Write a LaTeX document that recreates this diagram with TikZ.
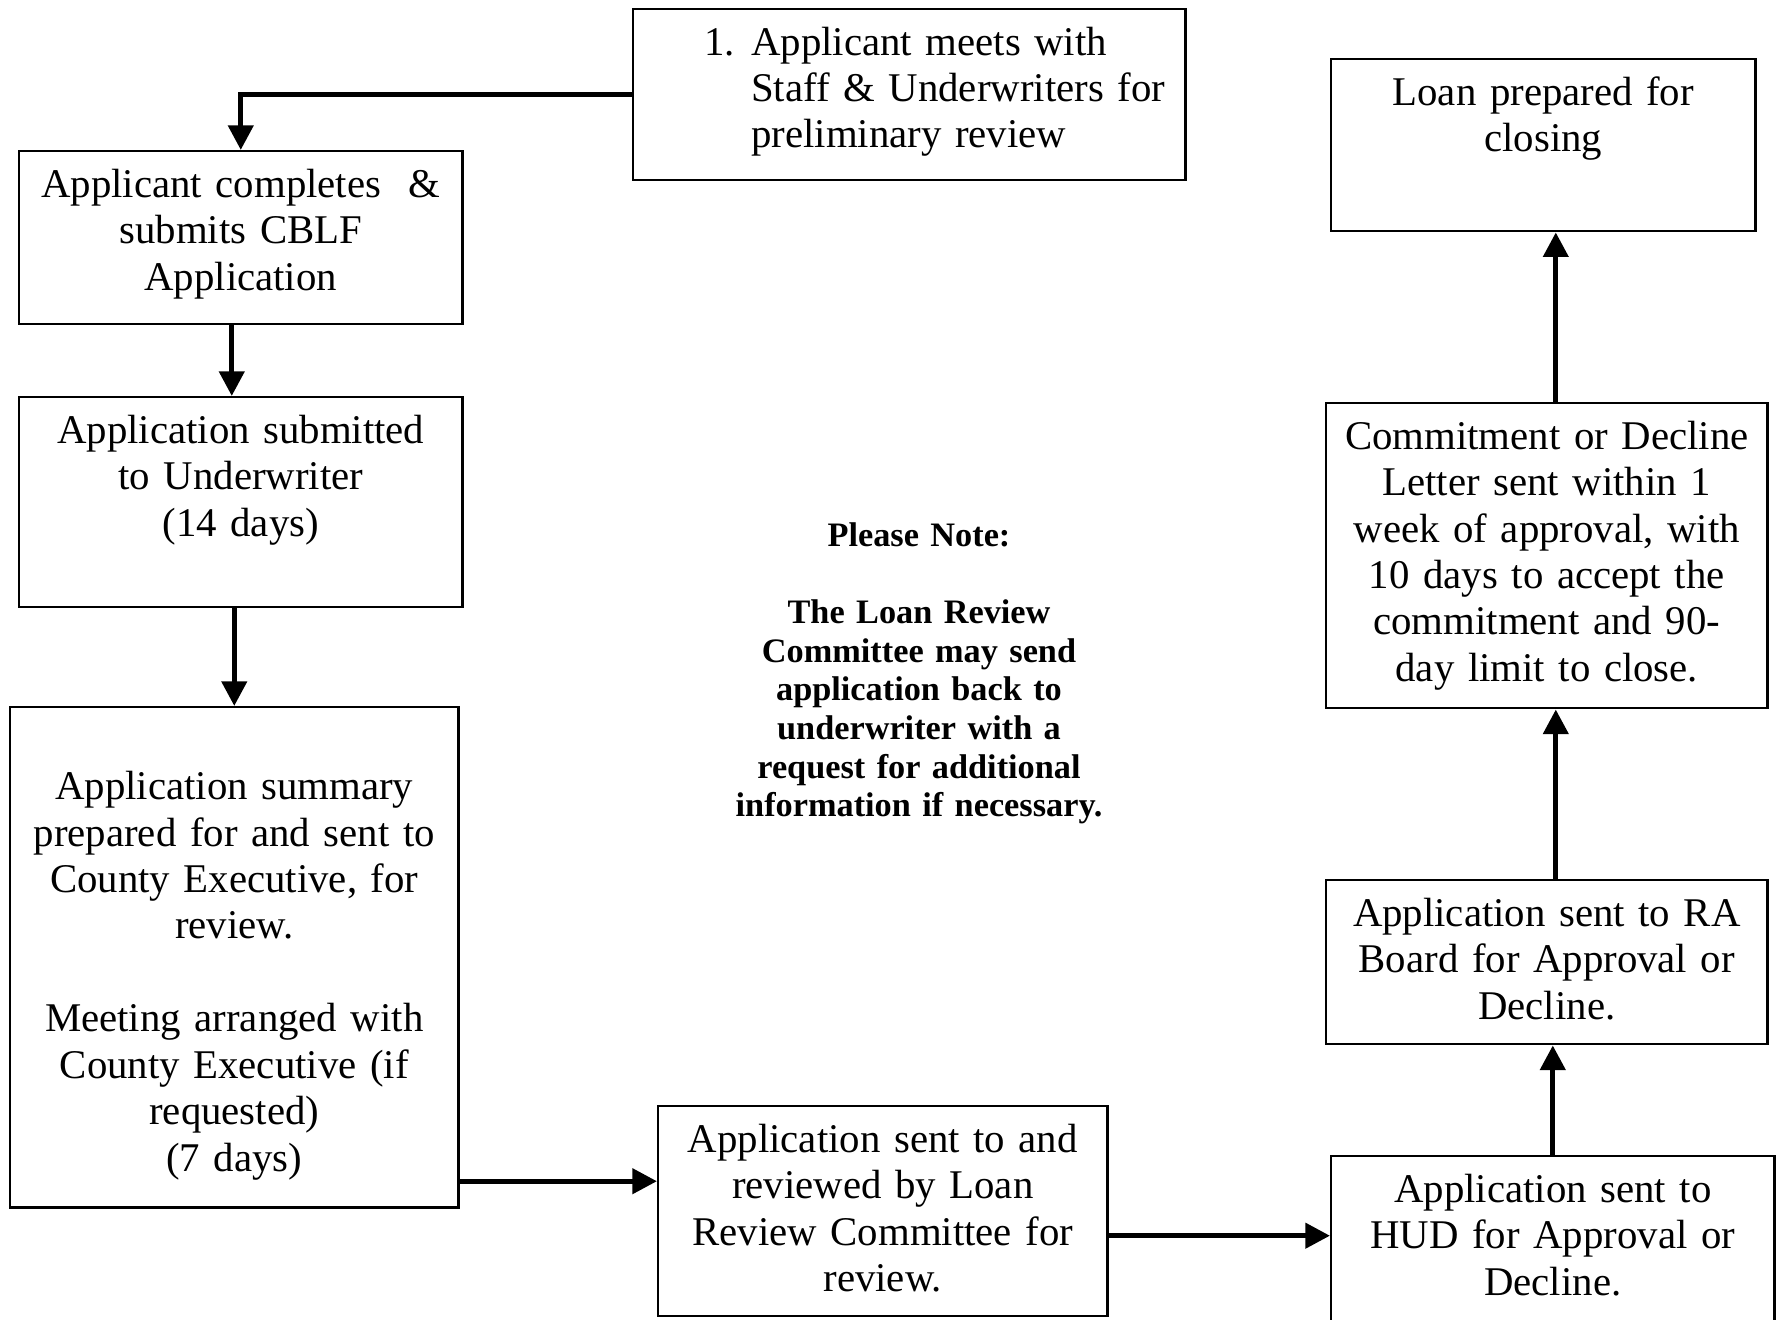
\documentclass[tikz,border=0pt]{standalone}
\usepackage{fontspec}
\setmainfont{Liberation Serif}
\usetikzlibrary{arrows.meta,calc}
\newcommand{\boxfont}{\fontsize{11.6pt}{13.2pt}\selectfont}
\newcommand{\notefont}{\bfseries\fontsize{9.75pt}{11pt}\selectfont}

\begin{document}
\begin{tikzpicture}[x=0.01cm,y=-0.01cm,
  box/.style={draw, line width=0.65pt, anchor=north west, inner xsep=0.05cm, inner ysep=0pt,
    align=center, font=\boxfont, text height=0.46cm},
  flow/.style={line width=1.5pt, -{Triangle[length=7pt,width=7pt]}}]
\useasboundingbox (0,0) rectangle (1777,1319);

\node[box, align=left, text width=5.42cm, text depth=1.25cm] (meet) at (632,8)
  {\hspace*{0.66cm}\makebox[0.47cm][l]{1.}Applicant meets with\\
   \hspace*{1.13cm}Staff \& Underwriters for\\
   \hspace*{1.13cm}preliminary review};
\node[box, text width=4.33cm, text depth=1.27cm] (completes) at (18,150)
  {Applicant completes~ \&\\ submits CBLF\\ Application};
\node[box, text width=4.33cm, text depth=1.64cm] (submitted) at (18,396)
  {Application submitted\\ to Underwriter\\ (14 days)};
\node[box, text width=4.38cm, text height=0.925cm, text depth=4.075cm] (summary) at (9,706)
  {Application summary\\ prepared for and sent to\\ County Executive, for\\ review.\\[13.2pt]
   Meeting arranged with\\ County Executive (if\\ requested)\\ (7 days)};
\node[box, text width=4.39cm, text depth=1.64cm] (lr) at (657,1105)
  {Application sent to and\\ reviewed by Loan\\ Review Committee for\\ review.};
\node[box, text width=4.33cm, text depth=1.29cm] (hud) at (1330,1155)
  {Application sent to\\ HUD for Approval or\\ Decline.};
\node[box, text width=4.31cm, text depth=1.18cm] (ra) at (1325,879)
  {Application sent to RA\\ Board for Approval or\\ Decline.};
\node[box, text width=4.31cm, text depth=2.59cm] (commit) at (1325,402)
  {Commitment or Decline\\ Letter sent within 1\\ week of approval, with\\ 10 days to accept the\\
   commitment and 90-\\ day limit to close.};
\node[box, text width=4.14cm, text depth=1.26cm] (closing) at (1330,58)
  {Loan prepared for\\ closing};

\node[font=\notefont, align=center, text width=4.2cm, anchor=base] (note) at (919,546)
  {Please Note:\\[11pt]The Loan Review\\ Committee may send\\ application back to\\
   underwriter with a\\ request for additional\\ information if necessary.};

\draw[flow] (meet.west) -| (completes.north);
\draw[flow] ($(completes.south)+(-9,0)$) -- ($(submitted.north)+(-9,0)$);
\draw[flow] (submitted.south -| summary.north) -- (summary.north);
\draw[flow] ($(summary.east |- lr.west)+(0,-30)$) -- ($(lr.west)+(0,-30)$);
\draw[flow] ($(lr.east |- hud.west)+(0,-8)$) -- ($(hud.west)+(0,-8)$);
\draw[flow] (hud.north) -- (hud.north |- ra.south);
\draw[flow] ($(ra.north)+(9,0)$) -- ($(commit.south)+(9,0)$);
\draw[flow] ($(commit.north)+(9,0)$) -- ($(closing.south -| commit.north)+(9,0)$);

\end{tikzpicture}
\end{document}
